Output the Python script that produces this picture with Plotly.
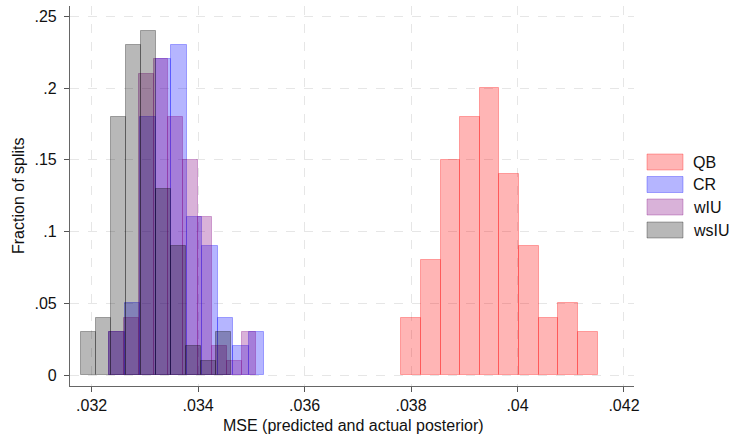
import numpy as np
import plotly.graph_objects as go

# ---- data (fraction of splits per bin, 10 bins per series) ----
series_names = ["QB", "CR", "wIU", "wsIU"]
qb_frac = [0.04, 0.08, 0.15, 0.18, 0.20, 0.14, 0.09, 0.04, 0.05, 0.03]
cr_frac = [0.03, 0.05, 0.18, 0.22, 0.23, 0.11, 0.09, 0.04, 0.02, 0.03]
wiu_frac = [0.03, 0.04, 0.21, 0.22, 0.18, 0.15, 0.11, 0.02, 0.01, 0.03]
wsiu_frac = [0.03, 0.04, 0.18, 0.23, 0.24, 0.13, 0.09, 0.02, 0.01, 0.03]
# bin range (min, max) of each series
qb_range = [0.037815, 0.041507]
cr_range = [0.032325, 0.035243]
wiu_range = [0.032334, 0.035093]
wsiu_range = [0.031796, 0.034610]

x_tickvals = [0.032, 0.034, 0.036, 0.038, 0.040, 0.042]
x_ticktext = [".032", ".034", ".036", ".038", ".04", ".042"]
y_tickvals = [0, 0.05, 0.10, 0.15, 0.20, 0.25]
y_ticktext = ["0", ".05", ".1", ".15", ".2", ".25"]

fills = ["rgba(255,0,0,0.29)", "rgba(0,0,255,0.29)", "rgba(128,0,128,0.30)", "rgba(0,0,0,0.28)"]
lines = ["rgba(255,0,0,0.30)", "rgba(0,0,255,0.30)", "rgba(128,0,128,0.30)", "rgba(0,0,0,0.30)"]

FONT = "Liberation Sans, Arial, Helvetica, sans-serif"
FS = 16

fig = go.Figure()
for name, frac, rng, fc, lc in zip(series_names,
                                   [qb_frac, cr_frac, wiu_frac, wsiu_frac],
                                   [qb_range, cr_range, wiu_range, wsiu_range],
                                   fills, lines):
    edges = np.linspace(rng[0], rng[1], len(frac) + 1)
    centers = (edges[:-1] + edges[1:]) / 2
    w = edges[1] - edges[0]
    fig.add_trace(go.Bar(x=centers, y=frac, width=[w] * len(frac), name=name,
                         marker=dict(color=fc, line=dict(color=lc, width=1)),
                         showlegend=False))

# custom legend (swatches + labels)
leg_y = [162, 184.5, 207, 230]
for name, fc, lc, yc in zip(series_names, fills, lines, leg_y):
    fig.add_shape(type="rect", xref="paper", yref="paper",
                  x0=(647 - 70) / 564, x1=(683 - 70) / 564,
                  y0=(386 - (yc + 8)) / 380, y1=(386 - (yc - 8)) / 380,
                  fillcolor=fc, line=dict(color=lc, width=1), layer="above")
    fig.add_annotation(xref="paper", yref="paper", x=(691 - 70) / 564, y=(386 - yc) / 380,
                       text=name, showarrow=False, xanchor="left", yanchor="middle",
                       font=dict(family=FONT, size=FS, color="#111"))

fig.add_annotation(xref="paper", yref="paper", x=(353 - 70) / 564, y=(386 - 425) / 380,
                   text="MSE (predicted and actual posterior)", showarrow=False,
                   xanchor="center", yanchor="middle",
                   font=dict(family=FONT, size=FS, color="#111"))
fig.add_annotation(xref="paper", yref="paper", x=(18 - 70) / 564, y=(386 - 196) / 380,
                   text="Fraction of splits", showarrow=False, textangle=-90,
                   xanchor="center", yanchor="middle",
                   font=dict(family=FONT, size=FS, color="#111"))

fig.update_layout(
    width=731, height=434,
    margin=dict(l=70, r=97, t=6, b=48),
    paper_bgcolor="white", plot_bgcolor="white",
    barmode="overlay", bargap=0,
    font=dict(family=FONT, size=FS, color="#111"),
)
fig.update_xaxes(range=[0.031593, 0.042188], tickvals=x_tickvals, ticktext=x_ticktext,
                 showgrid=True, gridcolor="#E6E6E6", griddash="dash", gridwidth=1,
                 showline=True, linecolor="#666", linewidth=1.2,
                 ticks="outside", ticklen=5, tickcolor="#555", zeroline=False,
                 tickfont=dict(family=FONT, size=FS, color="#111"))
fig.update_yaxes(range=[-0.00767, 0.2573], tickvals=y_tickvals, ticktext=y_ticktext,
                 showgrid=True, gridcolor="#E6E6E6", griddash="dash", gridwidth=1,
                 showline=True, linecolor="#666", linewidth=1.2,
                 ticks="outside", ticklen=5, tickcolor="#555", zeroline=False,
                 ticklabelstandoff=4,
                 tickfont=dict(family=FONT, size=FS, color="#111"))

fig.write_html("out.html")
